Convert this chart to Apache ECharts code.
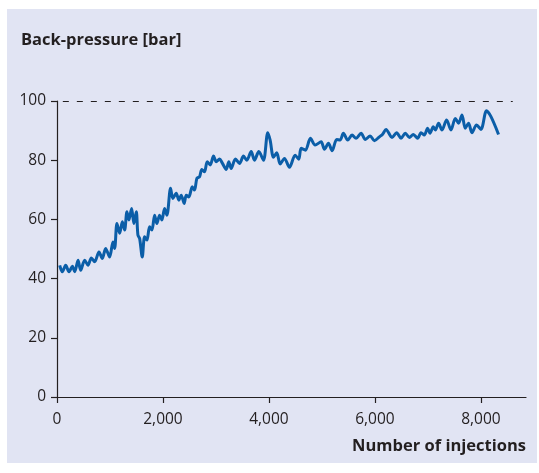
<!DOCTYPE html>
<html>
<head>
<meta charset="utf-8">
<script src="https://cdn.jsdelivr.net/npm/echarts@6/dist/echarts.min.js"></script>
<style>
  html, body { margin: 0; padding: 0; background: #ffffff; }
  #chart { width: 539px; height: 473px; }
</style>
</head>
<body>
<div id="chart"></div>
<script>
// Number of injections (x) and column back-pressure in bar (y)
const injections = [
  51, 100, 164, 227, 290, 334, 397, 447, 522, 585, 648, 711, 792, 855, 918, 993,
  1056, 1088, 1131, 1182, 1233, 1276, 1320, 1357, 1408, 1451, 1496, 1527, 1559, 1609,
  1653, 1697, 1747, 1791, 1842, 1885, 1936, 1979, 2030, 2074, 2143, 2187, 2250, 2300,
  2344, 2400, 2439, 2488, 2552, 2595, 2640, 2690, 2733, 2783, 2835, 2891, 2954, 3005,
  3067, 3117, 3193, 3242, 3286, 3368, 3444, 3519, 3582, 3664, 3726, 3808, 3896, 3977,
  4022, 4085, 4147, 4211, 4292, 4386, 4494, 4562, 4607, 4688, 4782, 4871, 4984, 5046,
  5122, 5191, 5278, 5342, 5404, 5486, 5568, 5644, 5738, 5819, 5908, 5989, 6083, 6145,
  6209, 6322, 6409, 6492, 6573, 6649, 6724, 6805, 6869, 6931, 6994, 7039, 7101, 7139,
  7201, 7265, 7352, 7434, 7516, 7578, 7642, 7704, 7766, 7830, 7917, 8000, 8105, 8189,
  8332
];
const pressure = [
  44.5, 42.3, 44.5, 42.3, 44.2, 42.3, 46.2, 42.8, 46.2, 44.5, 47.0, 45.7, 49.0, 46.8, 50.2, 47.3,
  52.4, 50.2, 58.6, 55.3, 59.2, 56.4, 62.6, 59.8, 63.7, 58.6, 62.6, 54.7, 53.6, 47.3,
  54.1, 53.0, 57.5, 56.4, 61.4, 58.6, 61.4, 59.8, 63.7, 61.4, 70.5, 67.1, 68.8, 66.5,
  68.2, 65.4, 68.2, 67.6, 71.0, 69.9, 73.9, 74.4, 76.9, 76.1, 79.5, 78.4, 81.4, 79.5,
  80.4, 79.1, 76.9, 79.5, 77.2, 80.4, 78.9, 81.4, 80.0, 82.9, 80.0, 82.9, 80.0, 89.3,
  86.8, 81.0, 82.5, 78.7, 80.6, 77.6, 81.7, 80.3, 84.0, 83.4, 87.4, 85.1, 86.2, 83.7,
  85.7, 83.2, 87.0, 86.8, 89.1, 86.8, 88.5, 87.4, 89.1, 87.0, 88.2, 86.6, 87.9, 88.8,
  90.4, 87.7, 89.3, 87.4, 89.1, 87.7, 88.7, 87.4, 89.3, 88.5, 90.8, 89.1, 91.3, 90.2,
  92.5, 90.2, 93.6, 90.2, 94.1, 92.5, 95.3, 90.8, 92.5, 89.3, 91.9, 90.4, 96.7, 94.7,
  88.7
];

// Axis ticks
const xTicks = [0, 2000, 4000, 6000, 8000];
const yTicks = [0, 20, 40, 60, 80, 100];

// Upper pressure limit drawn as a dashed guide line
const pressureLimit = 100;
const limitSpan = [110, 8600];

const textColor = '#231f20';
const fontFamily = '"Open Sans", "DejaVu Sans", sans-serif';

const chart = echarts.init(document.getElementById('chart'), null, { renderer: 'canvas' });

chart.setOption({
  backgroundColor: '#ffffff',
  animation: false,
  graphic: [{
    type: 'rect',
    z: -10,
    silent: true,
    shape: { x: 7, y: 9, width: 530, height: 454 },
    style: { fill: '#e1e4f3' }
  }],
  title: {
    text: 'Back-pressure [bar]',
    left: 16,
    top: 27,
    textStyle: { fontFamily, fontSize: 16.5, fontWeight: 'bold', color: textColor }
  },
  grid: { left: 57, top: 101, right: 13, bottom: 76 },
  xAxis: {
    type: 'value',
    min: 0,
    max: 8850,
    interval: 2000,
    name: 'Number of injections',
    nameLocation: 'end',
    nameGap: 0,
    nameTextStyle: {
      fontFamily, fontSize: 16.5, fontWeight: 'bold', color: textColor,
      align: 'right', verticalAlign: 'top', padding: [41, 0, 0, 0]
    },
    axisLine: { show: true, onZero: false, lineStyle: { color: textColor, width: 1.2 } },
    axisTick: { show: true, length: 6, inside: false, lineStyle: { color: textColor, width: 1.2 },
      customValues: xTicks },
    axisLabel: {
      color: textColor, fontFamily, fontSize: 15.5, margin: 15,
      customValues: xTicks,
      formatter: v => v.toLocaleString('en-US')
    },
    splitLine: { show: false }
  },
  yAxis: {
    type: 'value',
    min: 0,
    max: 100,
    interval: 20,
    axisLine: { show: true, lineStyle: { color: textColor, width: 1.2 } },
    axisTick: { show: true, length: 6, lineStyle: { color: textColor, width: 1.2 },
      customValues: yTicks },
    axisLabel: { color: textColor, fontFamily, fontSize: 15.5, margin: 11, customValues: yTicks },
    splitLine: { show: false }
  },
  series: [{
    type: 'line',
    data: injections.map((x, i) => [x, pressure[i]]),
    showSymbol: false,
    smooth: 0.3,
    lineStyle: { color: '#0b5ea8', width: 3 },
    markLine: {
      silent: true,
      symbol: 'none',
      label: { show: false },
      lineStyle: { color: textColor, width: 1.2, type: [6, 8] },
      data: [[
        { coord: [limitSpan[0], pressureLimit] },
        { coord: [limitSpan[1], pressureLimit] }
      ]]
    }
  }]
});
</script>
</body>
</html>
